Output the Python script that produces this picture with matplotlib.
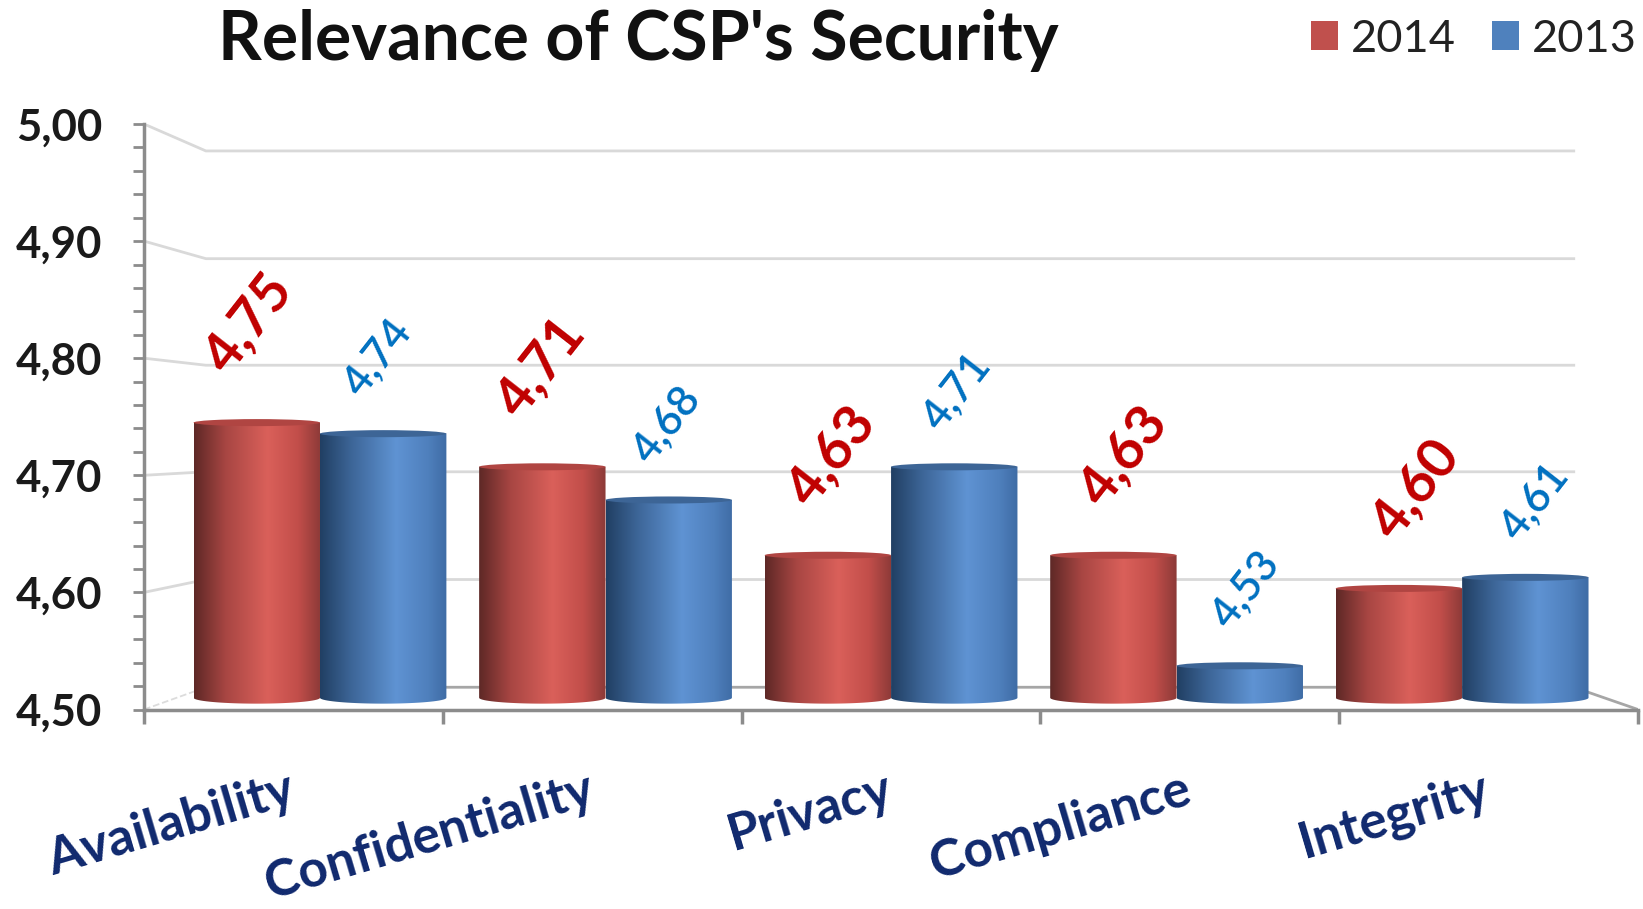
import matplotlib.pyplot as plt
import numpy as np
from matplotlib.colors import LinearSegmentedColormap
from matplotlib.patches import Ellipse, Patch, PathPatch
from matplotlib.path import Path

categories = ['Availability', 'Confidentiality', 'Privacy', 'Compliance', 'Integrity']
values_2014 = [4.75, 4.71, 4.63, 4.63, 4.60]
values_2013 = [4.74, 4.68, 4.71, 4.53, 4.61]
y_major = [4.5, 4.6, 4.7, 4.8, 4.9, 5.0]
y_labels = ['4,50', '4,60', '4,70', '4,80', '4,90', '5,00']
# where each gridline lands on the back wall of the fake 3D box
back_wall = [4.519, 4.611, 4.703, 4.794, 4.885, 4.977]

W, H = 1643, 909
plt.rcParams['font.family'] = ['Lato', 'DejaVu Sans']

red_map = LinearSegmentedColormap.from_list('red3d', [
    (0.0, '#5e2826'), (0.25, '#a84643'), (0.58, '#da605a'),
    (0.82, '#c24e4a'), (1.0, '#8c3a38')])
blue_map = LinearSegmentedColormap.from_list('blue3d', [
    (0.0, '#213f63'), (0.25, '#3d6698'), (0.6, '#5f93d3'),
    (0.85, '#4f80bd'), (1.0, '#3f6ca5')])
RED_CAP = '#b04542'
BLUE_CAP = '#3d6596'
BASE = 4.505
CURVE = 0.005
CAP = 0.006

fig = plt.figure(figsize=(W / 100, H / 100), dpi=100)
ax = fig.add_axes([144 / W, 1 - 709.5 / H, (1638 - 144) / W, (709.5 - 124) / H])
ax.set_xlim(0, 5)
ax.set_ylim(4.5, 5.0)


def front_plane(v):
    # bars stand in front of the wall, so their scale is a bit smaller than the axis
    return 4.748 + 0.944 * (np.asarray(v) - 4.75)


# Back wall gridlines
for v, b in zip(y_major, back_wall):
    if v == 4.5:
        ax.plot([0, 0.207], [v, b], color='#dcdcdc', lw=1.3, ls='--', zorder=1)
        ax.plot([0.207, 4.785, 5], [b, b, v], color='#a6a6a6', lw=2.0, zorder=1)
    else:
        ax.plot([0, 0.207, 4.785], [v, b, b], color='#d9d9d9', lw=2.0, zorder=1)


def draw_bars(x, values, width, cmap, cap_color):
    tops = front_plane(values)
    bars = ax.bar(x, tops - BASE, width, bottom=BASE, align='edge',
                  facecolor='none', edgecolor='none', zorder=3)
    grad = np.linspace(0, 1, 256).reshape(1, -1)
    for bar, top in zip(bars, tops):
        x0, w = bar.get_x(), bar.get_width()
        t = np.linspace(np.pi, 2 * np.pi, 40)
        xs = x0 + w / 2 + w / 2 * np.cos(t)
        ys = BASE + CURVE + CURVE * np.sin(t)
        verts = list(zip(xs, ys)) + [(x0 + w, top - CAP / 2), (x0, top - CAP / 2), (xs[0], ys[0])]
        codes = [Path.MOVETO] + [Path.LINETO] * (len(verts) - 2) + [Path.CLOSEPOLY]
        im = ax.imshow(grad, cmap=cmap, aspect='auto', zorder=3,
                       extent=[x0, x0 + w, BASE, top])
        im.set_clip_path(PathPatch(Path(verts, codes), transform=ax.transData))
        ax.add_patch(Ellipse((x0 + w / 2, top - CAP / 2), w, CAP, facecolor=cap_color,
                             edgecolor='none', zorder=4))
    return bars


centers = 0.589 + 0.9556 * np.arange(len(categories))
bar_w = 0.423
bars_2014 = draw_bars(centers - bar_w, values_2014, bar_w, red_map, RED_CAP)
bars_2013 = draw_bars(centers, values_2013, bar_w, blue_map, BLUE_CAP)
ax.set_xlim(0, 5)
ax.set_ylim(4.5, 5.0)

# Slanted value labels
for i, (bar, val) in enumerate(zip(bars_2014, values_2014)):
    ax.annotate(f'{val:.2f}'.replace('.', ','), (bar.get_x() + bar.get_width() / 2, front_plane(val)),
                xytext=(-6 + 4.5 * i, 69), textcoords='offset points', rotation=52,
                ha='center', va='center', fontsize=40, fontweight='bold', color='#c00000',
                rotation_mode='anchor', zorder=5)
for i, (bar, val) in enumerate(zip(bars_2013, values_2013)):
    ax.annotate(f'{val:.2f}'.replace('.', ','), (bar.get_x() + bar.get_width() / 2, front_plane(val)),
                xytext=(-4 + 2.7 * i, 52), textcoords='offset points', rotation=52,
                ha='center', va='center', fontsize=31, fontweight='semibold', color='#0070c0',
                rotation_mode='anchor', zorder=5)

# Axes
for side in ['top', 'right']:
    ax.spines[side].set_visible(False)
for side in ['left', 'bottom']:
    ax.spines[side].set_color('#8c8c8c')
    ax.spines[side].set_linewidth(2.5)

ax.set_yticks(y_major)
ax.set_yticklabels(y_labels, fontsize=31.5, fontweight='bold', color='#1a1a1a')
ax.set_yticks(np.arange(4.5, 5.001, 0.02), minor=True)
ax.tick_params(axis='y', which='both', length=8, width=2, color='#8c8c8c', pad=22)

ax.set_xticks(range(6))
ax.set_xticklabels([])
ax.tick_params(axis='x', which='major', length=10, width=2.5, color='#8c8c8c')
ax.set_xticks(np.arange(len(categories)) + 0.5, minor=True)
ax.set_xticklabels(categories, minor=True, fontsize=37, fontweight='bold', color='#10296e',
                   rotation=16.5, ha='right', va='center', rotation_mode='anchor')
ax.tick_params(axis='x', which='minor', length=0, pad=57)

fig.text(638 / W, 1 - 40 / H, "Relevance of CSP's Security", ha='center', va='center',
         fontsize=49, fontweight='bold', color='#111111')

handles = [Patch(facecolor='#c0504d', label='2014'), Patch(facecolor='#4f81bd', label='2013')]
fig.legend(handles=handles, loc='center left', bbox_to_anchor=(1311 / W, 1 - 39 / H), ncol=2,
           frameon=False, fontsize=32.5, borderpad=0, borderaxespad=0, handlelength=0.6,
           handleheight=0.6, handletextpad=0.28, columnspacing=0.8, labelcolor='#222222')

fig.savefig('out.png', dpi=100)
plt.close(fig)
